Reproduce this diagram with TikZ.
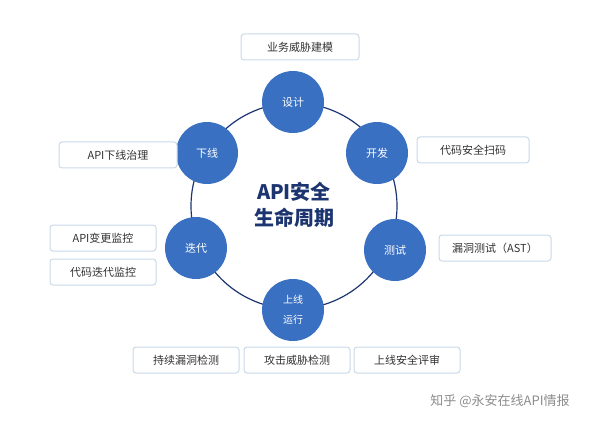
\documentclass[tikz,border=0pt]{standalone}
\usepackage{fontspec}
\setmainfont{Noto Sans CJK SC}
\usetikzlibrary{positioning}
\definecolor{mblue}{HTML}{3A70C2}
\definecolor{mnavy}{HTML}{1C3570}
\definecolor{mgray}{HTML}{C9D9E8}
\tikzstyle{stage}=[circle, fill=mblue, text=white, minimum size=62pt, inner sep=0pt, font=\fontsize{11}{13}\selectfont]
\tikzstyle{tag}=[rectangle, rounded corners=3pt, draw=mgray, line width=1, fill=white, minimum height=26pt, text=black!80, font=\fontsize{11}{13}\selectfont]
\begin{document}
\begin{tikzpicture}[x=1pt, y=-1pt]
    \useasboundingbox (0,0) rectangle (600,425);

    \draw[line width=1.2, mnavy] (294,206) circle (103);
    \node[font=\fontsize{20}{26}\selectfont\bfseries, text=mnavy, align=center] at (294,205) (title) {API安全\\生命周期};

    \node[stage] at (293,102) (s1) {设计};
    \node[stage] at (377,153) (s2) {开发};
    \node[stage] at (395,250) (s3) {测试};
    \node[stage, align=center, font=\fontsize{10}{20}\selectfont] at (293,310) (s4) {上线\\运行};
    \node[stage] at (196,248) (s5) {迭代};
    \node[stage] at (207,153) (s6) {下线};

    \node[tag, minimum width=118pt] at (300,47) (t1) {业务威胁建模};
    \node[tag, minimum width=112pt] at (473,150) (t2) {代码安全扫码};
    \node[tag, minimum width=112pt] at (495,248) (t3) {漏洞测试（AST）};
    \node[tag, minimum width=118pt] at (118,155) (t4) {API下线治理};
    \node[tag, minimum width=106pt] at (103,238) (t5) {API变更监控};
    \node[tag, minimum width=106pt] at (103,272) (t6) {代码迭代监控};
    \node[tag, minimum width=106pt] at (186,360) (t7) {持续漏洞检测};
    \node[tag, minimum width=106pt] at (297,360) (t8) {攻击威胁检测};
    \node[tag, minimum width=106pt] at (407,360) (t9) {上线安全评审};

    \node[text=black!45, font=\fontsize{13}{15}\selectfont] at (500,401) (mark) {知乎 @永安在线API情报};

\end{tikzpicture}
\end{document}
